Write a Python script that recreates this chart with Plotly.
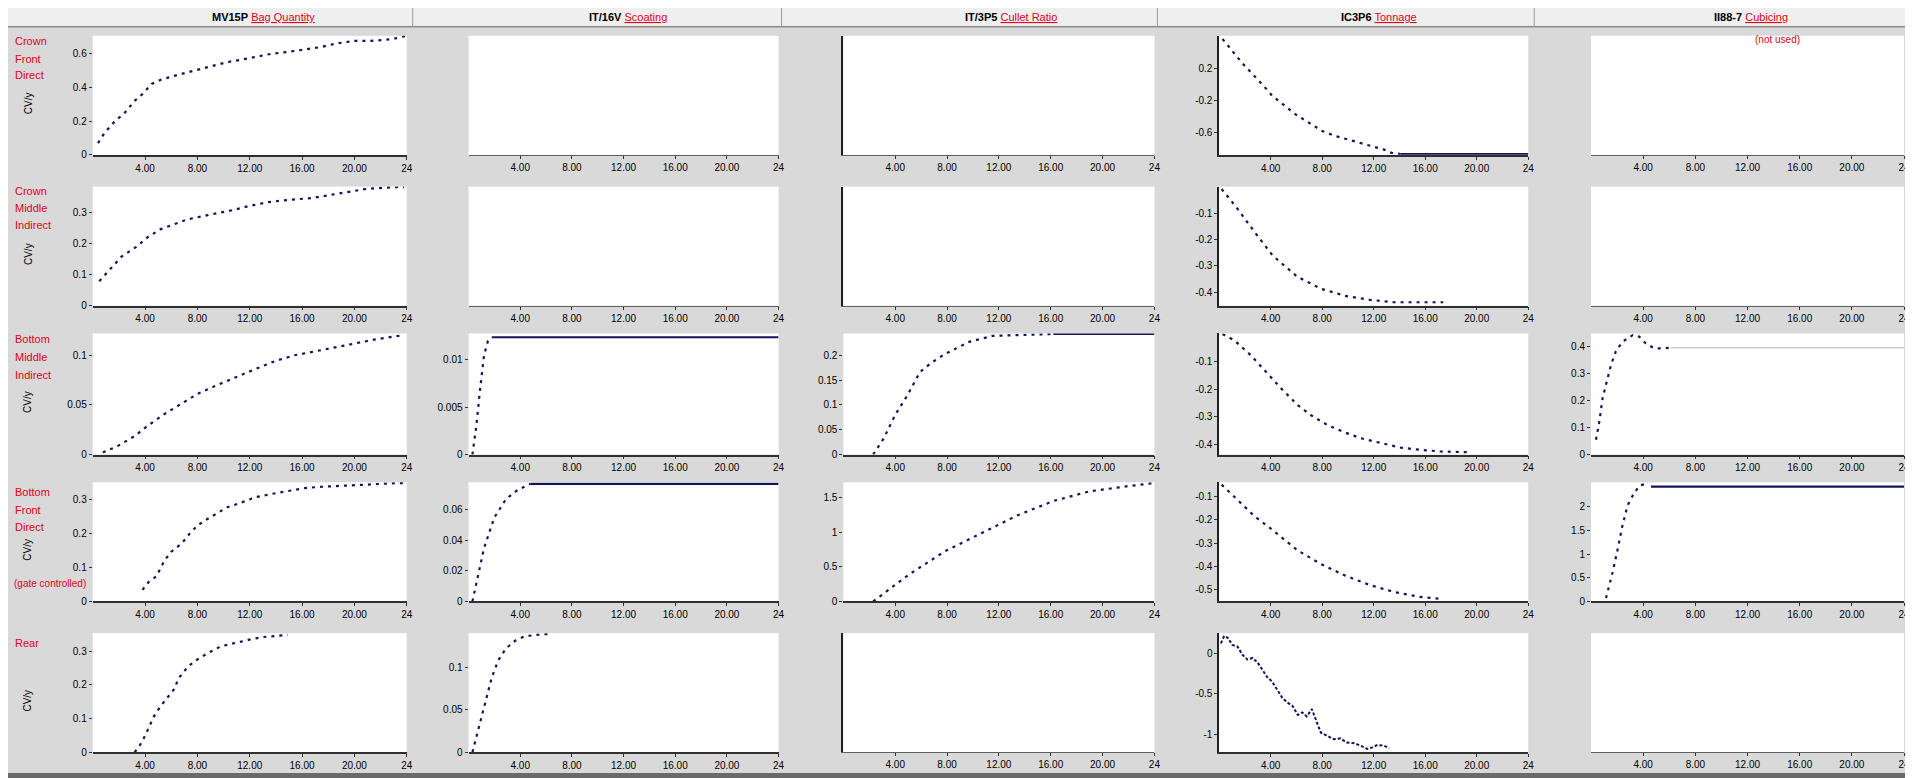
import plotly.graph_objects as go

W, H = 1913, 778

# ---------------- data ----------------
X_TICKS = [4, 8, 12, 16, 20, 24]
X_TICK_LABELS = ["4.00", "8.00", "12.00", "16.00", "20.00", "24"]

COLUMN_CODES = ["MV15P", "IT/16V", "IT/3P5", "IC3P6", "II88-7"]
COLUMN_NAMES = ["Bag Quantity", "Scoating", "Cullet Ratio", "Tonnage", "Cubicing"]
COLUMN_NOTES = ["", "", "", "", "(not used)"]
ROW_LABELS = [
    ["Crown", "Front", "Direct"],
    ["Crown", "Middle", "Indirect"],
    ["Bottom", "Middle", "Indirect"],
    ["Bottom", "Front", "Direct"],
    ["Rear"],
]
ROW_NOTES = ["", "", "", "(gate controlled)", ""]
Y_TITLE = "CV/y"

# row 1
r1c1_x = [0.4, 0.9, 1.7, 2.4, 3.2, 3.8, 4.5, 5.2, 6.3, 7.3, 8.3, 9.3, 10.3, 11.4, 12.4, 13.7, 14.9, 16.2, 17.5, 18.6, 20.0, 21.3, 22.9, 23.9]
r1c1_y = [0.07, 0.13, 0.20, 0.245, 0.32, 0.36, 0.42, 0.445, 0.47, 0.49, 0.51, 0.53, 0.55, 0.565, 0.58, 0.60, 0.61, 0.627, 0.64, 0.66, 0.676, 0.676, 0.686, 0.705]
r1c4_x = [0.26, 1.16, 1.8, 3.5, 4.1, 5.9, 7.1, 8.0, 9.0, 9.9, 10.7, 12.0, 12.8, 13.4, 14.1]
r1c4_y = [0.56, 0.39, 0.26, -0.03, -0.14, -0.37, -0.49, -0.58, -0.64, -0.68, -0.71, -0.77, -0.81, -0.85, -0.865]
r1c4_flat_x = [14.1, 24]
r1c4_flat_y = [-0.865, -0.865]

# row 2
r2c1_x = [0.5, 1.15, 2.2, 3.3, 4.2, 5.2, 6.3, 7.3, 8.8, 9.8, 10.9, 11.9, 13.4, 15.2, 16.7, 18.3, 19.8, 20.8, 22.9, 23.8]
r2c1_y = [0.079, 0.11, 0.158, 0.189, 0.221, 0.247, 0.263, 0.279, 0.292, 0.30, 0.31, 0.321, 0.334, 0.342, 0.347, 0.358, 0.368, 0.376, 0.382, 0.382]
r2c4_x = [0.19, 1.32, 2.74, 4.16, 6.05, 7.9, 9.8, 11.7, 13.6, 15.5, 17.4]
r2c4_y = [-0.009, -0.077, -0.171, -0.261, -0.34, -0.386, -0.413, -0.428, -0.437, -0.437, -0.437]

# row 3
r3c1_x = [0.77, 1.9, 3.2, 4.2, 5.5, 6.8, 8.0, 9.3, 10.9, 12.4, 13.9, 15.4, 17.0, 18.5, 20.0, 21.6, 23.6]
r3c1_y = [0.002, 0.0085, 0.0186, 0.029, 0.041, 0.051, 0.061, 0.0688, 0.078, 0.086, 0.094, 0.10, 0.104, 0.108, 0.112, 0.116, 0.12]
r3c2_x = [0.3, 0.6, 0.9, 1.2, 1.5, 1.8]
r3c2_y = [0.0, 0.003, 0.007, 0.0105, 0.0120, 0.0124]
r3c2_flat_x = [1.8, 24]
r3c2_flat_y = [0.0124, 0.0124]
r3c3_x = [2.3, 3.1, 4.0, 5.0, 5.9, 6.8, 7.8, 9.7, 11.5, 13.4, 16.2]
r3c3_y = [0.0, 0.032, 0.08, 0.122, 0.166, 0.185, 0.202, 0.227, 0.239, 0.241, 0.243]
r3c3_flat_x = [16.2, 24]
r3c3_flat_y = [0.243, 0.243]
r3c4_x = [0.26, 1.16, 2.45, 3.5, 4.8, 6.1, 7.1, 8.4, 9.7, 11.0, 12.3, 14.1, 15.6, 17.2, 19.5]
r3c4_y = [0.0, -0.022, -0.076, -0.13, -0.196, -0.257, -0.293, -0.329, -0.355, -0.377, -0.392, -0.411, -0.419, -0.425, -0.428]
r3c5_x = [0.38, 0.64, 0.89, 1.28, 1.53, 1.9, 2.4, 3.2, 3.7, 4.2, 4.85, 5.5, 6.1]
r3c5_y = [0.055, 0.123, 0.21, 0.283, 0.332, 0.382, 0.418, 0.443, 0.437, 0.412, 0.394, 0.394, 0.396]
r3c5_ref_x = [6.1, 24]
r3c5_ref_y = [0.396, 0.396]

# row 4
r4c1_x = [3.8, 4.3, 4.85, 5.5, 6.0, 6.8, 7.4, 8.0, 8.8, 9.6, 10.3, 11.4, 12.4, 13.7, 14.9, 16.2, 17.5, 19.0, 20.8, 22.9, 23.9]
r4c1_y = [0.034, 0.058, 0.073, 0.121, 0.146, 0.17, 0.199, 0.223, 0.243, 0.262, 0.277, 0.291, 0.306, 0.316, 0.325, 0.333, 0.337, 0.339, 0.343, 0.347, 0.348]
r4c2_x = [0.3, 0.75, 1.2, 2.0, 2.9, 3.8, 4.8]
r4c2_y = [0.0, 0.018, 0.035, 0.055, 0.067, 0.073, 0.077]
r4c2_flat_x = [4.8, 24]
r4c2_flat_y = [0.077, 0.077]
r4c3_x = [2.3, 5.0, 7.8, 10.6, 13.4, 16.2, 19.0, 21.8, 24.0]
r4c3_y = [0.0, 0.38, 0.72, 0.98, 1.24, 1.45, 1.59, 1.66, 1.71]
r4c4_x = [0.19, 1.32, 2.74, 4.16, 6.05, 7.9, 9.8, 11.7, 13.6, 15.5, 17.4]
r4c4_y = [-0.05, -0.11, -0.185, -0.245, -0.33, -0.39, -0.44, -0.48, -0.51, -0.53, -0.54]
r4c5_x = [1.15, 1.4, 1.66, 2.04, 2.4, 2.8, 3.2, 3.7, 4.1]
r4c5_y = [0.07, 0.34, 0.62, 1.10, 1.59, 2.03, 2.24, 2.45, 2.48]
r4c5_flat_x = [4.6, 24]
r4c5_flat_y = [2.43, 2.43]

# row 5
r5c1_x = [3.2, 3.6, 4.0, 4.3, 4.7, 5.2, 5.7, 6.3, 6.5, 7.3, 8.0, 8.8, 9.8, 10.9, 11.9, 12.9, 13.9, 14.9]
r5c1_y = [0.0, 0.02, 0.049, 0.074, 0.108, 0.137, 0.162, 0.191, 0.216, 0.255, 0.275, 0.294, 0.314, 0.325, 0.333, 0.341, 0.345, 0.348]
r5c2_x = [0.3, 0.8, 1.3, 1.8, 2.3, 2.9, 3.6, 4.3, 5.2, 6.2]
r5c2_y = [0.0, 0.03, 0.06, 0.088, 0.108, 0.122, 0.131, 0.136, 0.138, 0.139]
r5c4_x = [0.13, 0.39, 0.65, 1.03, 1.42, 1.8, 2.2, 2.6, 3.0, 3.35, 3.7, 4.1, 4.5, 4.9, 5.3, 5.7, 6.1, 6.45, 6.8, 7.2, 7.6, 7.9, 8.4, 8.9, 9.4, 9.9, 10.5, 11.0, 11.5, 11.9, 12.3, 12.8, 13.2]
r5c4_y = [0.12, 0.21, 0.19, 0.10, 0.08, -0.02, -0.08, -0.06, -0.12, -0.20, -0.29, -0.35, -0.45, -0.55, -0.61, -0.65, -0.76, -0.73, -0.78, -0.69, -0.86, -0.98, -1.02, -1.06, -1.05, -1.10, -1.11, -1.14, -1.18, -1.16, -1.13, -1.14, -1.17]

# ---------------- panel setup ----------------
DOT = dict(color="#14145a", width=2.2, dash="3px,5px")
SOLID = dict(color="#14145a", width=2.2)
THIN = dict(color="#b8b8b8", width=1)
NOISY = dict(color="#14145a", width=2, dash="3px,2px")

panels = {
    (0, 0): dict(rng=[0, 0.706], tv=[0, 0.2, 0.4, 0.6], tt=["0", "0.2", "0.4", "0.6"],
                 s=[(r1c1_x, r1c1_y, DOT)]),
    (0, 1): dict(),
    (0, 2): dict(left=True),
    (0, 3): dict(rng=[-0.875, 0.6], tv=[0.2, -0.2, -0.6], tt=["0.2", "-0.2", "-0.6"], left=True,
                 s=[(r1c4_x, r1c4_y, DOT), (r1c4_flat_x, r1c4_flat_y, SOLID)]),
    (0, 4): dict(),
    (1, 0): dict(rng=[0, 0.384], tv=[0, 0.1, 0.2, 0.3], tt=["0", "0.1", "0.2", "0.3"],
                 s=[(r2c1_x, r2c1_y, DOT)]),
    (1, 1): dict(),
    (1, 2): dict(left=True),
    (1, 3): dict(rng=[-0.45, 0.0], tv=[-0.1, -0.2, -0.3, -0.4], tt=["-0.1", "-0.2", "-0.3", "-0.4"], left=True,
                 s=[(r2c4_x, r2c4_y, DOT)]),
    (1, 4): dict(),
    (2, 0): dict(rng=[0, 0.122], tv=[0, 0.05, 0.1], tt=["0", "0.05", "0.1"],
                 s=[(r3c1_x, r3c1_y, DOT)]),
    (2, 1): dict(rng=[0, 0.0128], tv=[0, 0.005, 0.01], tt=["0", "0.005", "0.01"],
                 s=[(r3c2_x, r3c2_y, DOT), (r3c2_flat_x, r3c2_flat_y, SOLID)]),
    (2, 2): dict(rng=[0, 0.244], tv=[0, 0.05, 0.1, 0.15, 0.2], tt=["0", "0.05", "0.1", "0.15", "0.2"],
                 s=[(r3c3_x, r3c3_y, DOT), (r3c3_flat_x, r3c3_flat_y, SOLID)]),
    (2, 3): dict(rng=[-0.436, 0.0024], tv=[-0.1, -0.2, -0.3, -0.4], tt=["-0.1", "-0.2", "-0.3", "-0.4"], left=True,
                 s=[(r3c4_x, r3c4_y, DOT)]),
    (2, 4): dict(rng=[0, 0.449], tv=[0, 0.1, 0.2, 0.3, 0.4], tt=["0", "0.1", "0.2", "0.3", "0.4"],
                 s=[(r3c5_ref_x, r3c5_ref_y, THIN), (r3c5_x, r3c5_y, DOT)]),
    (3, 0): dict(rng=[0, 0.35], tv=[0, 0.1, 0.2, 0.3], tt=["0", "0.1", "0.2", "0.3"],
                 s=[(r4c1_x, r4c1_y, DOT)]),
    (3, 1): dict(rng=[0, 0.078], tv=[0, 0.02, 0.04, 0.06], tt=["0", "0.02", "0.04", "0.06"],
                 s=[(r4c2_x, r4c2_y, DOT), (r4c2_flat_x, r4c2_flat_y, SOLID)]),
    (3, 2): dict(rng=[0, 1.72], tv=[0, 0.5, 1, 1.5], tt=["0", "0.5", "1", "1.5"],
                 s=[(r4c3_x, r4c3_y, DOT)]),
    (3, 3): dict(rng=[-0.55, -0.04], tv=[-0.1, -0.2, -0.3, -0.4, -0.5], tt=["-0.1", "-0.2", "-0.3", "-0.4", "-0.5"], left=True,
                 s=[(r4c4_x, r4c4_y, DOT)]),
    (3, 4): dict(rng=[0, 2.52], tv=[0, 0.5, 1, 1.5, 2], tt=["0", "0.5", "1", "1.5", "2"],
                 s=[(r4c5_x, r4c5_y, DOT), (r4c5_flat_x, r4c5_flat_y, SOLID)]),
    (4, 0): dict(rng=[0, 0.353], tv=[0, 0.1, 0.2, 0.3], tt=["0", "0.1", "0.2", "0.3"],
                 s=[(r5c1_x, r5c1_y, DOT)]),
    (4, 1): dict(rng=[0, 0.14], tv=[0, 0.05, 0.1], tt=["0", "0.05", "0.1"],
                 s=[(r5c2_x, r5c2_y, DOT)]),
    (4, 2): dict(left=True),
    (4, 3): dict(rng=[-1.22, 0.245], tv=[0, -0.5, -1], tt=["0", "-0.5", "-1"], left=True,
                 s=[(r5c4_x, r5c4_y, NOISY)]),
    (4, 4): dict(),
}

COL_PX = [(85, 400), (462, 773), (838, 1150), (1215, 1525), (1588, 1902)]
ROW_PX = [(28, 148), (180, 300), (328, 450), (478, 598), (630, 750)]
ROW_LABEL_Y = [[33, 51, 68], [184, 202, 219], [334, 352, 370], [488, 506, 523], [640]]
ROW_NOTE_Y = [None, None, None, 572, None]

FAM = "Liberation Sans, Arial, sans-serif"
FONT = dict(family=FAM, size=10, color="#000000")
RED = "#e2001a"

fig = go.Figure()
layout = dict(
    width=W, height=H, margin=dict(l=0, r=0, t=0, b=0),
    paper_bgcolor="#d9d9d9", plot_bgcolor="#ffffff",
    showlegend=False, font=FONT,
)

for r in range(5):
    for c in range(5):
        idx = r * 5 + c + 1
        p = panels[(r, c)]
        x0, x1 = COL_PX[c]
        y0, y1 = ROW_PX[r]
        xa = "xaxis" if idx == 1 else f"xaxis{idx}"
        ya = "yaxis" if idx == 1 else f"yaxis{idx}"
        has_data = bool(p.get("s"))
        layout[xa] = dict(
            domain=[x0 / W, x1 / W], range=[0, 24], anchor=f"y{idx}",
            tickmode="array", tickvals=X_TICKS, ticktext=X_TICK_LABELS,
            showline=True, linecolor="#303030" if has_data else "#606060",
            linewidth=1.5 if has_data else 1.2,
            ticks="outside", ticklen=3, tickcolor="#303030",
            showgrid=False, zeroline=False, tickfont=FONT,
        )
        ydict = dict(
            domain=[1 - y1 / H, 1 - y0 / H], anchor=f"x{idx}",
            showgrid=False, zeroline=False,
            showline=bool(p.get("left")), linecolor="#202020", linewidth=1.5,
            tickfont=FONT,
        )
        if "rng" in p:
            ydict.update(range=p["rng"], tickmode="array", tickvals=p["tv"], ticktext=p["tt"],
                         ticks="outside", ticklen=3, tickcolor="#303030")
        else:
            ydict.update(range=[0, 1], showticklabels=False, ticks="")
        layout[ya] = ydict
        series = p.get("s", [])
        if not series:
            # empty panel: still draw its (white) plot area and axes
            fig.add_trace(go.Scatter(x=[], y=[], mode="lines", xaxis=f"x{idx}", yaxis=f"y{idx}",
                                     hoverinfo="skip"))
        for sx, sy, ln in series:
            fig.add_trace(go.Scatter(x=sx, y=sy, mode="lines", line=ln,
                                     xaxis=f"x{idx}", yaxis=f"y{idx}", hoverinfo="skip"))

shapes = []
annotations = []
# header strip
shapes.append(dict(type="rect", xref="paper", yref="paper", x0=0, x1=1, y0=1 - 18 / H, y1=1,
                   fillcolor="#efefef", line=dict(width=0), layer="below"))
shapes.append(dict(type="line", xref="paper", yref="paper", x0=0, x1=1, y0=1 - 19 / H, y1=1 - 19 / H,
                   line=dict(color="#8a8a8a", width=1.5)))
for xd in [406, 776, 1153, 1531]:
    shapes.append(dict(type="line", xref="paper", yref="paper", x0=xd / W, x1=xd / W,
                       y0=1 - 19 / H, y1=1, line=dict(color="#9a9a9a", width=1)))
# frame edges
shapes.append(dict(type="rect", xref="paper", yref="paper", x0=1905 / W, x1=1, y0=0, y1=1,
                   fillcolor="#5a5a5a", line=dict(width=0)))
shapes.append(dict(type="rect", xref="paper", yref="paper", x0=0, x1=1, y0=0, y1=7 / H,
                   fillcolor="#6a6a6a", line=dict(width=0)))

HEAD_CX = [256, 622, 1006, 1375, 1748]
for c in range(5):
    txt = (f"<b>{COLUMN_CODES[c]}</b> "
           f"<span style='color:{RED}'><u>{COLUMN_NAMES[c]}</u></span>")
    annotations.append(dict(xref="paper", yref="paper", x=HEAD_CX[c] / W, y=1 - 9 / H,
                            text=txt, showarrow=False, xanchor="center", yanchor="middle",
                            font=dict(family=FAM, size=11, color="#000")))
    if COLUMN_NOTES[c]:
        annotations.append(dict(xref="paper", yref="paper", x=1775 / W, y=1 - 32 / H,
                                text=COLUMN_NOTES[c], showarrow=False, xanchor="center", yanchor="middle",
                                font=dict(family=FAM, size=10, color=RED)))

for r in range(5):
    y0, y1 = ROW_PX[r]
    for word, yy in zip(ROW_LABELS[r], ROW_LABEL_Y[r]):
        annotations.append(dict(xref="paper", yref="paper", x=5 / W, y=1 - yy / H,
                                text=word, showarrow=False, xanchor="left", yanchor="middle",
                                font=dict(family=FAM, size=11, color=RED)))
    if ROW_NOTES[r]:
        annotations.append(dict(xref="paper", yref="paper", x=4 / W, y=1 - (ROW_NOTE_Y[r] + 8) / H,
                                text=ROW_NOTES[r], showarrow=False, xanchor="left", yanchor="middle",
                                font=dict(family=FAM, size=10, color=RED)))
    annotations.append(dict(xref="paper", yref="paper", x=20 / W, y=1 - ((y0 + y1) / 2 + 8) / H,
                            text=Y_TITLE, showarrow=False, textangle=-90,
                            xanchor="center", yanchor="middle",
                            font=dict(family=FAM, size=10, color="#000")))

layout["shapes"] = shapes
layout["annotations"] = annotations
fig.update_layout(**layout)
fig.write_html("out.html")
